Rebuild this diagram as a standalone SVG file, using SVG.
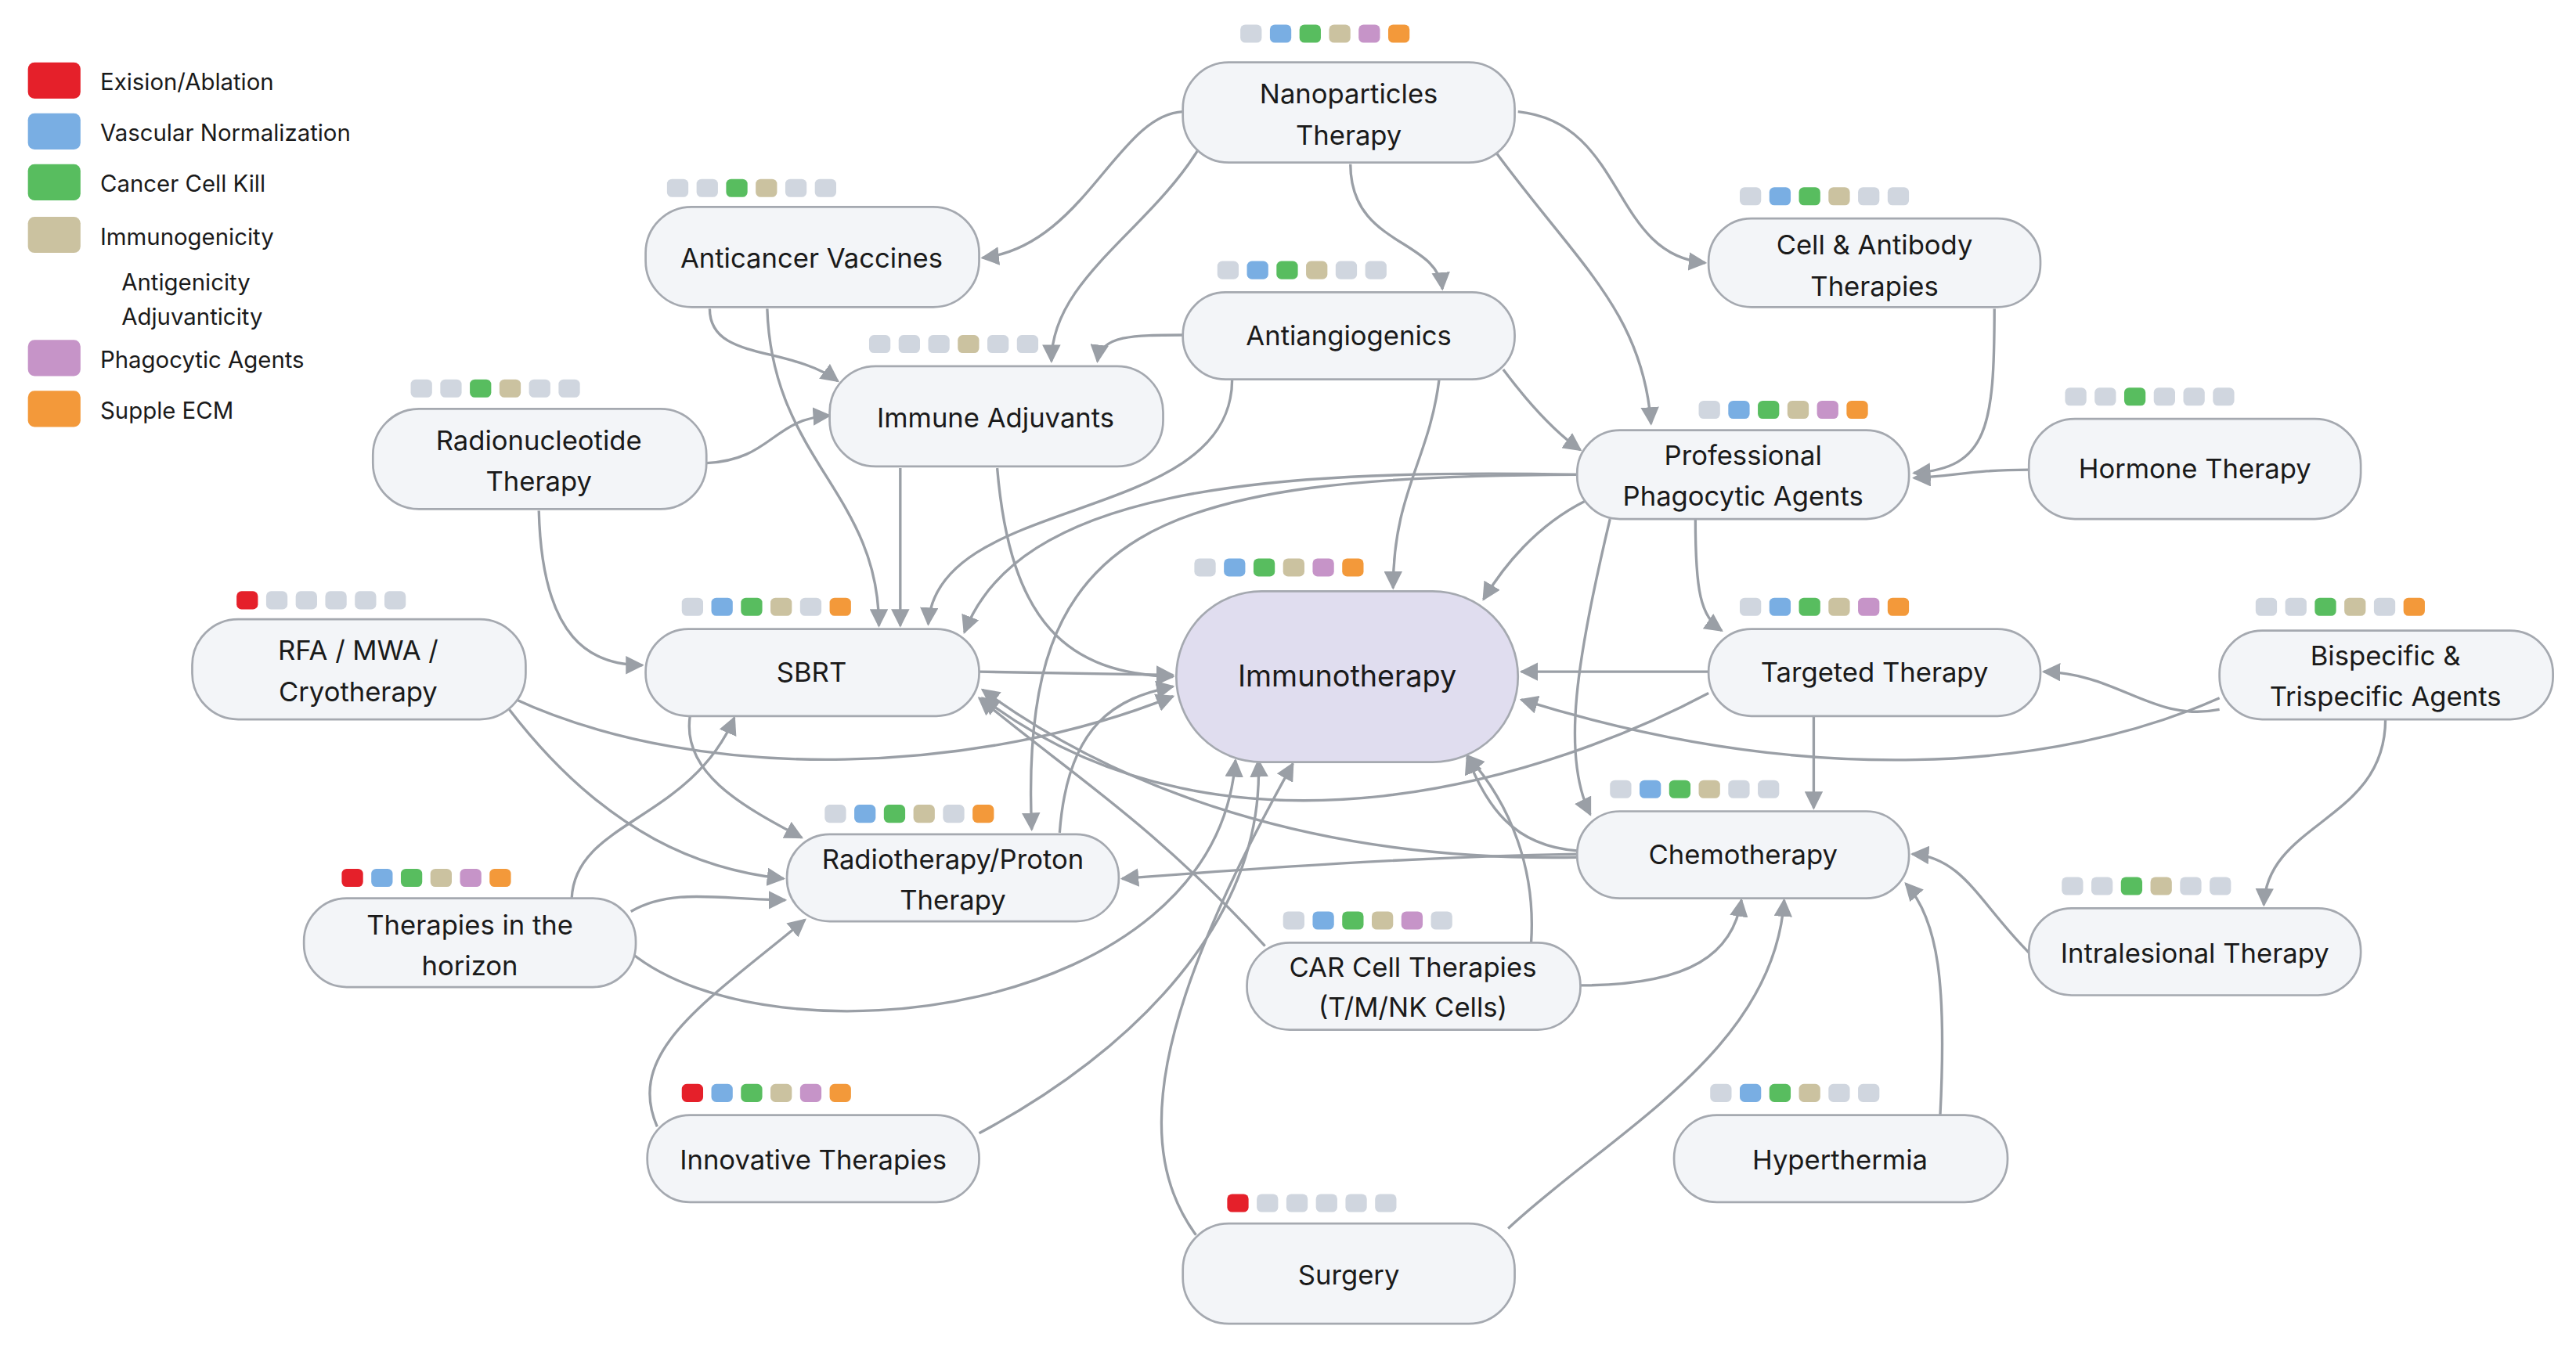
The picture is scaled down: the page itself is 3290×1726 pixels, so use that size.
<svg xmlns="http://www.w3.org/2000/svg" width="3290" height="1726" viewBox="0 0 3290 1726">
<defs>
<marker id="ar" viewBox="0 0 10 10" refX="9" refY="5" markerWidth="7" markerHeight="7" orient="auto"><path d="M0,0L10,5L0,10z" fill="#9a9fa6"/></marker>
<style>
.n{fill:#f3f5f8;stroke:#a5a9b0;stroke-width:1.3}
.im{fill:#e0ddef;stroke:#a5a9b0;stroke-width:1.3}
.t{font-family:Inter,"Liberation Sans",sans-serif;font-size:16.5px;fill:#1a1a1a;text-anchor:middle}
.lg{font-family:Inter,"Liberation Sans",sans-serif;font-size:14px;fill:#1a1a1a}
.e{fill:none;stroke:#9a9fa6;stroke-width:1.6;marker-end:url(#ar)}
.g{fill:#d0d6df}.b{fill:#79aee3}.gr{fill:#58bd5f}.tn{fill:#cbc2a0}.p{fill:#c694c8}.o{fill:#f3993a}.r{fill:#e5202a}
</style>
</defs>
<rect width="3290" height="1726" fill="#fff"/>
<g transform="scale(2.0982)">
<g id="legend">
<rect x="17" y="38" width="32" height="22" rx="4" class="r"/><text class="lg" x="61" y="55">Exision/Ablation</text>
<rect x="17" y="69" width="32" height="22" rx="4" class="b"/><text class="lg" x="61" y="86">Vascular Normalization</text>
<rect x="17" y="100" width="32" height="22" rx="4" class="gr"/><text class="lg" x="61" y="117">Cancer Cell Kill</text>
<rect x="17" y="132" width="32" height="22" rx="4" class="tn"/><text class="lg" x="61" y="149">Immunogenicity</text>
<text class="lg" x="74" y="177">Antigenicity</text><text class="lg" x="74" y="198">Adjuvanticity</text>
<rect x="17" y="207" width="32" height="22" rx="4" class="p"/><text class="lg" x="61" y="224">Phagocytic Agents</text>
<rect x="17" y="238" width="32" height="22" rx="4" class="o"/><text class="lg" x="61" y="255">Supple ECM</text>
</g>
<g id="connectors">
<path class="e" d="M720,68C680,70 660,150 598,157"/>
<path class="e" d="M730,90C700,140 640,170 640,220"/>
<path class="e" d="M822,100C822,150 875,145 878,176"/>
<path class="e" d="M910,92C960,160 1000,190 1005,258"/>
<path class="e" d="M924,68C990,75 980,155 1038,160"/>
<path class="e" d="M432,188C432,220 480,210 510,232"/>
<path class="e" d="M467,188C470,280 535,300 535,381"/>
<path class="e" d="M720,204C690,204 670,204 668,220"/>
<path class="e" d="M750,231C750,320 570,300 565,380"/>
<path class="e" d="M876,231C870,280 848,300 848,358"/>
<path class="e" d="M915,225C930,245 945,262 962,274"/>
<path class="e" d="M430,282C470,280 470,255 505,253"/>
<path class="e" d="M328,311C330,390 360,405 391,405"/>
<path class="e" d="M548,285L548,381"/>
<path class="e" d="M607,285C615,380 650,410 714,412"/>
<path class="e" d="M1214,188C1214,260 1210,285 1165,288"/>
<path class="e" d="M1235,286C1200,286 1190,290 1165,291"/>
<path class="e" d="M960,289C760,285 620,300 587,385"/>
<path class="e" d="M960,289C700,290 620,320 628,505"/>
<path class="e" d="M965,305C935,320 915,345 903,365"/>
<path class="e" d="M980,316C960,400 950,460 968,496"/>
<path class="e" d="M1032,316C1032,360 1035,375 1048,384"/>
<path class="e" d="M312,425C430,480 600,470 714,424"/>
<path class="e" d="M310,432C370,510 430,530 477,535"/>
<path class="e" d="M596,409L714,411"/>
<path class="e" d="M420,436C415,470 450,490 488,510"/>
<path class="e" d="M1040,409L926,409"/>
<path class="e" d="M1040,422C950,470 750,540 598,425"/>
<path class="e" d="M1351,432C1310,440 1290,410 1244,409"/>
<path class="e" d="M1351,425C1250,470 1100,480 926,426"/>
<path class="e" d="M1452,438C1452,500 1380,500 1378,551"/>
<path class="e" d="M1104,436L1104,492"/>
<path class="e" d="M960,520C850,522 750,530 683,535"/>
<path class="e" d="M960,518C920,515 905,490 893,461"/>
<path class="e" d="M960,522C800,525 680,480 598,420"/>
<path class="e" d="M1235,580C1205,550 1195,522 1164,520"/>
<path class="e" d="M1181,679C1185,600 1180,560 1160,538"/>
<path class="e" d="M918,748C980,690 1080,640 1086,548"/>
<path class="e" d="M728,752C690,700 700,620 787,465"/>
<path class="e" d="M962,600C1030,600 1055,580 1060,548"/>
<path class="e" d="M932,574C935,530 920,490 893,460"/>
<path class="e" d="M770,576C700,500 650,470 596,425"/>
<path class="e" d="M348,547C350,500 420,500 447,437"/>
<path class="e" d="M384,555C410,540 440,548 478,548"/>
<path class="e" d="M384,580C470,650 740,620 752,463"/>
<path class="e" d="M400,686C380,640 430,610 490,560"/>
<path class="e" d="M596,690C690,640 770,560 766,463"/>
<path class="e" d="M645,507C650,440 680,425 714,418"/>
</g>
<g id="nano"><rect class="n" x="720" y="38" width="202" height="61" rx="28"/><text class="t" x="821" y="63">Nanoparticles</text><text class="t" x="821" y="88">Therapy</text>
<rect class="g" x="755" y="15" width="13" height="11" rx="3"/><rect class="b" x="773" y="15" width="13" height="11" rx="3"/><rect class="gr" x="791" y="15" width="13" height="11" rx="3"/><rect class="tn" x="809" y="15" width="13" height="11" rx="3"/><rect class="p" x="827" y="15" width="13" height="11" rx="3"/><rect class="o" x="845" y="15" width="13" height="11" rx="3"/></g>
<g id="vacc"><rect class="n" x="393" y="126" width="203" height="61" rx="28"/><text class="t" x="494" y="163">Anticancer Vaccines</text>
<rect class="g" x="406" y="109" width="13" height="11" rx="3"/><rect class="g" x="424" y="109" width="13" height="11" rx="3"/><rect class="gr" x="442" y="109" width="13" height="11" rx="3"/><rect class="tn" x="460" y="109" width="13" height="11" rx="3"/><rect class="g" x="478" y="109" width="13" height="11" rx="3"/><rect class="g" x="496" y="109" width="13" height="11" rx="3"/></g>
<g id="cellab"><rect class="n" x="1040" y="133" width="202" height="54" rx="26"/><text class="t" x="1141" y="155">Cell &amp; Antibody</text><text class="t" x="1141" y="180">Therapies</text>
<rect class="g" x="1059" y="114" width="13" height="11" rx="3"/><rect class="b" x="1077" y="114" width="13" height="11" rx="3"/><rect class="gr" x="1095" y="114" width="13" height="11" rx="3"/><rect class="tn" x="1113" y="114" width="13" height="11" rx="3"/><rect class="g" x="1131" y="114" width="13" height="11" rx="3"/><rect class="g" x="1149" y="114" width="13" height="11" rx="3"/></g>
<g id="antiang"><rect class="n" x="720" y="178" width="202" height="53" rx="26"/><text class="t" x="821" y="210">Antiangiogenics</text>
<rect class="g" x="741" y="159" width="13" height="11" rx="3"/><rect class="b" x="759" y="159" width="13" height="11" rx="3"/><rect class="gr" x="777" y="159" width="13" height="11" rx="3"/><rect class="tn" x="795" y="159" width="13" height="11" rx="3"/><rect class="g" x="813" y="159" width="13" height="11" rx="3"/><rect class="g" x="831" y="159" width="13" height="11" rx="3"/></g>
<g id="adj"><rect class="n" x="505" y="223" width="203" height="61" rx="28"/><text class="t" x="606" y="260">Immune Adjuvants</text>
<rect class="g" x="529" y="204" width="13" height="11" rx="3"/><rect class="g" x="547" y="204" width="13" height="11" rx="3"/><rect class="g" x="565" y="204" width="13" height="11" rx="3"/><rect class="tn" x="583" y="204" width="13" height="11" rx="3"/><rect class="g" x="601" y="204" width="13" height="11" rx="3"/><rect class="g" x="619" y="204" width="13" height="11" rx="3"/></g>
<g id="radionuc"><rect class="n" x="227" y="249" width="203" height="61" rx="28"/><text class="t" x="328" y="274">Radionucleotide</text><text class="t" x="328" y="299">Therapy</text>
<rect class="g" x="250" y="231" width="13" height="11" rx="3"/><rect class="g" x="268" y="231" width="13" height="11" rx="3"/><rect class="gr" x="286" y="231" width="13" height="11" rx="3"/><rect class="tn" x="304" y="231" width="13" height="11" rx="3"/><rect class="g" x="322" y="231" width="13" height="11" rx="3"/><rect class="g" x="340" y="231" width="13" height="11" rx="3"/></g>
<g id="prof"><rect class="n" x="960" y="262" width="202" height="54" rx="26"/><text class="t" x="1061" y="283">Professional</text><text class="t" x="1061" y="308">Phagocytic Agents</text>
<rect class="g" x="1034" y="244" width="13" height="11" rx="3"/><rect class="b" x="1052" y="244" width="13" height="11" rx="3"/><rect class="gr" x="1070" y="244" width="13" height="11" rx="3"/><rect class="tn" x="1088" y="244" width="13" height="11" rx="3"/><rect class="p" x="1106" y="244" width="13" height="11" rx="3"/><rect class="o" x="1124" y="244" width="13" height="11" rx="3"/></g>
<g id="hormone"><rect class="n" x="1235" y="255" width="202" height="61" rx="28"/><text class="t" x="1336" y="291">Hormone Therapy</text>
<rect class="g" x="1257" y="236" width="13" height="11" rx="3"/><rect class="g" x="1275" y="236" width="13" height="11" rx="3"/><rect class="gr" x="1293" y="236" width="13" height="11" rx="3"/><rect class="g" x="1311" y="236" width="13" height="11" rx="3"/><rect class="g" x="1329" y="236" width="13" height="11" rx="3"/><rect class="g" x="1347" y="236" width="13" height="11" rx="3"/></g>
<g id="rfa"><rect class="n" x="117" y="377" width="203" height="61" rx="28"/><text class="t" x="218" y="402">RFA / MWA /</text><text class="t" x="218" y="427">Cryotherapy</text>
<rect class="r" x="144" y="360" width="13" height="11" rx="3"/><rect class="g" x="162" y="360" width="13" height="11" rx="3"/><rect class="g" x="180" y="360" width="13" height="11" rx="3"/><rect class="g" x="198" y="360" width="13" height="11" rx="3"/><rect class="g" x="216" y="360" width="13" height="11" rx="3"/><rect class="g" x="234" y="360" width="13" height="11" rx="3"/></g>
<g id="sbrt"><rect class="n" x="393" y="383" width="203" height="53" rx="26"/><text class="t" x="494" y="415">SBRT</text>
<rect class="g" x="415" y="364" width="13" height="11" rx="3"/><rect class="b" x="433" y="364" width="13" height="11" rx="3"/><rect class="gr" x="451" y="364" width="13" height="11" rx="3"/><rect class="tn" x="469" y="364" width="13" height="11" rx="3"/><rect class="g" x="487" y="364" width="13" height="11" rx="3"/><rect class="o" x="505" y="364" width="13" height="11" rx="3"/></g>
<g id="immuno"><rect class="im" x="716" y="360" width="208" height="104" rx="52"/><text class="t" x="820" y="418" style="font-size:18px">Immunotherapy</text>
<rect class="g" x="727" y="340" width="13" height="11" rx="3"/><rect class="b" x="745" y="340" width="13" height="11" rx="3"/><rect class="gr" x="763" y="340" width="13" height="11" rx="3"/><rect class="tn" x="781" y="340" width="13" height="11" rx="3"/><rect class="p" x="799" y="340" width="13" height="11" rx="3"/><rect class="o" x="817" y="340" width="13" height="11" rx="3"/></g>
<g id="targeted"><rect class="n" x="1040" y="383" width="202" height="53" rx="26"/><text class="t" x="1141" y="415">Targeted Therapy</text>
<rect class="g" x="1059" y="364" width="13" height="11" rx="3"/><rect class="b" x="1077" y="364" width="13" height="11" rx="3"/><rect class="gr" x="1095" y="364" width="13" height="11" rx="3"/><rect class="tn" x="1113" y="364" width="13" height="11" rx="3"/><rect class="p" x="1131" y="364" width="13" height="11" rx="3"/><rect class="o" x="1149" y="364" width="13" height="11" rx="3"/></g>
<g id="bispec"><rect class="n" x="1351" y="384" width="203" height="54" rx="26"/><text class="t" x="1452" y="405">Bispecific &amp;</text><text class="t" x="1452" y="430">Trispecific Agents</text>
<rect class="g" x="1373" y="364" width="13" height="11" rx="3"/><rect class="g" x="1391" y="364" width="13" height="11" rx="3"/><rect class="gr" x="1409" y="364" width="13" height="11" rx="3"/><rect class="tn" x="1427" y="364" width="13" height="11" rx="3"/><rect class="g" x="1445" y="364" width="13" height="11" rx="3"/><rect class="o" x="1463" y="364" width="13" height="11" rx="3"/></g>
<g id="chemo"><rect class="n" x="960" y="494" width="202" height="53" rx="26"/><text class="t" x="1061" y="526">Chemotherapy</text>
<rect class="g" x="980" y="475" width="13" height="11" rx="3"/><rect class="b" x="998" y="475" width="13" height="11" rx="3"/><rect class="gr" x="1016" y="475" width="13" height="11" rx="3"/><rect class="tn" x="1034" y="475" width="13" height="11" rx="3"/><rect class="g" x="1052" y="475" width="13" height="11" rx="3"/><rect class="g" x="1070" y="475" width="13" height="11" rx="3"/></g>
<g id="radio"><rect class="n" x="479" y="508" width="202" height="53" rx="26"/><text class="t" x="580" y="529">Radiotherapy/Proton</text><text class="t" x="580" y="554">Therapy</text>
<rect class="g" x="502" y="490" width="13" height="11" rx="3"/><rect class="b" x="520" y="490" width="13" height="11" rx="3"/><rect class="gr" x="538" y="490" width="13" height="11" rx="3"/><rect class="tn" x="556" y="490" width="13" height="11" rx="3"/><rect class="g" x="574" y="490" width="13" height="11" rx="3"/><rect class="o" x="592" y="490" width="13" height="11" rx="3"/></g>
<g id="horizon"><rect class="n" x="185" y="547" width="202" height="54" rx="26"/><text class="t" x="286" y="569">Therapies in the</text><text class="t" x="286" y="594">horizon</text>
<rect class="r" x="208" y="529" width="13" height="11" rx="3"/><rect class="b" x="226" y="529" width="13" height="11" rx="3"/><rect class="gr" x="244" y="529" width="13" height="11" rx="3"/><rect class="tn" x="262" y="529" width="13" height="11" rx="3"/><rect class="p" x="280" y="529" width="13" height="11" rx="3"/><rect class="o" x="298" y="529" width="13" height="11" rx="3"/></g>
<g id="car"><rect class="n" x="759" y="574" width="203" height="53" rx="26"/><text class="t" x="860" y="595">CAR Cell Therapies</text><text class="t" x="860" y="619">(T/M/NK Cells)</text>
<rect class="g" x="781" y="555" width="13" height="11" rx="3"/><rect class="b" x="799" y="555" width="13" height="11" rx="3"/><rect class="gr" x="817" y="555" width="13" height="11" rx="3"/><rect class="tn" x="835" y="555" width="13" height="11" rx="3"/><rect class="p" x="853" y="555" width="13" height="11" rx="3"/><rect class="g" x="871" y="555" width="13" height="11" rx="3"/></g>
<g id="intral"><rect class="n" x="1235" y="553" width="202" height="53" rx="26"/><text class="t" x="1336" y="586">Intralesional Therapy</text>
<rect class="g" x="1255" y="534" width="13" height="11" rx="3"/><rect class="g" x="1273" y="534" width="13" height="11" rx="3"/><rect class="gr" x="1291" y="534" width="13" height="11" rx="3"/><rect class="tn" x="1309" y="534" width="13" height="11" rx="3"/><rect class="g" x="1327" y="534" width="13" height="11" rx="3"/><rect class="g" x="1345" y="534" width="13" height="11" rx="3"/></g>
<g id="innov"><rect class="n" x="394" y="679" width="202" height="53" rx="26"/><text class="t" x="495" y="712">Innovative Therapies</text>
<rect class="r" x="415" y="660" width="13" height="11" rx="3"/><rect class="b" x="433" y="660" width="13" height="11" rx="3"/><rect class="gr" x="451" y="660" width="13" height="11" rx="3"/><rect class="tn" x="469" y="660" width="13" height="11" rx="3"/><rect class="p" x="487" y="660" width="13" height="11" rx="3"/><rect class="o" x="505" y="660" width="13" height="11" rx="3"/></g>
<g id="hyper"><rect class="n" x="1019" y="679" width="203" height="53" rx="26"/><text class="t" x="1120" y="712">Hyperthermia</text>
<rect class="g" x="1041" y="660" width="13" height="11" rx="3"/><rect class="b" x="1059" y="660" width="13" height="11" rx="3"/><rect class="gr" x="1077" y="660" width="13" height="11" rx="3"/><rect class="tn" x="1095" y="660" width="13" height="11" rx="3"/><rect class="g" x="1113" y="660" width="13" height="11" rx="3"/><rect class="g" x="1131" y="660" width="13" height="11" rx="3"/></g>
<g id="surgery"><rect class="n" x="720" y="745" width="202" height="61" rx="28"/><text class="t" x="821" y="782">Surgery</text>
<rect class="r" x="747" y="727" width="13" height="11" rx="3"/><rect class="g" x="765" y="727" width="13" height="11" rx="3"/><rect class="g" x="783" y="727" width="13" height="11" rx="3"/><rect class="g" x="801" y="727" width="13" height="11" rx="3"/><rect class="g" x="819" y="727" width="13" height="11" rx="3"/><rect class="g" x="837" y="727" width="13" height="11" rx="3"/></g>
</g>
</svg>
